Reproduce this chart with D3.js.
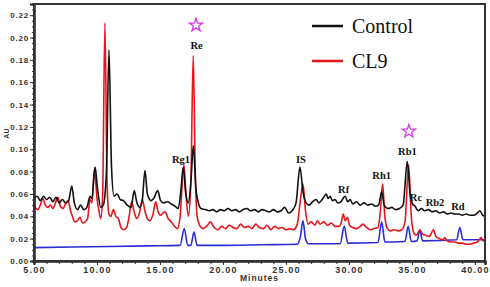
<!DOCTYPE html>
<html>
<head>
<meta charset="utf-8">
<script src="https://cdn.jsdelivr.net/npm/d3@7"></script>
<style>
  body { margin: 0; background: #fff; }
  .tick text { font-family: "Liberation Sans", Arial, sans-serif; font-weight: bold; fill: #333; }
</style>
</head>
<body>
<div id="chart"></div>
<script>
var W = 490, H = 287;
var margin = {top: 4, right: 5, bottom: 26, left: 34},
    width = W - margin.left - margin.right,
    height = H - margin.top - margin.bottom;

// Control (black)
var controlTime = [5.0,5.25,5.5,5.75,6.0,6.25,6.5,6.75,7.0,7.25,7.5,7.75,8.0,8.2,8.45,8.7,8.95,9.2,9.45,9.6,9.85,10.05,10.3,10.5,10.75,10.95,11.15,11.35,11.6,11.85,12.1,12.4,12.7,12.96,13.15,13.4,13.6,13.81,14.0,14.3,14.5,14.82,15.05,15.3,15.6,15.9,16.2,16.45,16.65,16.85,17.05,17.25,17.45,17.65,17.85,18.05,18.25,18.6,18.9,19.2,19.5,19.8,20.1,20.4,20.7,21.0,21.3,21.6,21.9,22.2,22.5,22.8,23.1,23.4,23.7,24.0,24.3,24.6,24.9,25.2,25.5,25.8,26.11,26.35,26.6,26.85,27.1,27.4,27.6,27.8,28.0,28.2,28.35,28.5,28.7,28.9,29.1,29.35,29.7,29.9,30.1,30.3,30.6,30.9,31.2,31.5,31.8,32.1,32.35,32.6,32.8,33.1,33.4,33.7,34.0,34.3,34.63,34.85,35.05,35.25,35.5,35.75,36.0,36.3,36.6,36.9,37.2,37.5,37.8,38.1,38.4,38.7,39.0,39.3,39.6,39.9,40.2,40.4,40.6,40.8];
var controlAU = [0.056,0.058,0.054,0.058,0.055,0.057,0.053,0.057,0.052,0.055,0.052,0.054,0.067,0.052,0.046,0.050,0.046,0.048,0.058,0.056,0.084,0.064,0.048,0.050,0.080,0.189,0.085,0.058,0.060,0.055,0.054,0.050,0.048,0.063,0.053,0.048,0.055,0.081,0.060,0.054,0.056,0.063,0.054,0.052,0.053,0.051,0.049,0.047,0.062,0.084,0.060,0.052,0.070,0.103,0.065,0.052,0.047,0.046,0.045,0.046,0.044,0.046,0.045,0.047,0.045,0.046,0.044,0.046,0.047,0.045,0.046,0.044,0.046,0.045,0.044,0.046,0.044,0.045,0.048,0.043,0.045,0.052,0.084,0.062,0.052,0.050,0.053,0.055,0.052,0.054,0.057,0.060,0.056,0.058,0.054,0.055,0.052,0.053,0.058,0.053,0.055,0.051,0.053,0.050,0.052,0.050,0.051,0.049,0.050,0.062,0.050,0.047,0.048,0.046,0.047,0.050,0.089,0.060,0.051,0.049,0.045,0.047,0.045,0.046,0.044,0.045,0.043,0.044,0.042,0.043,0.042,0.042,0.041,0.042,0.041,0.041,0.043,0.045,0.041,0.040];

// CL9 (red)
var cl9Time = [5.0,5.1,5.3,5.5,5.7,5.9,6.1,6.3,6.5,6.7,6.9,7.1,7.3,7.5,7.7,7.9,8.05,8.25,8.45,8.65,8.85,9.05,9.25,9.45,9.6,9.8,10.0,10.15,10.3,10.45,10.63,10.8,10.95,11.1,11.3,11.5,11.7,11.9,12.1,12.35,12.55,12.75,12.95,13.15,13.35,13.6,13.8,14.0,14.2,14.45,14.66,14.85,15.05,15.25,15.4,15.65,15.9,16.15,16.4,16.6,16.9,17.05,17.25,17.45,17.64,17.8,17.95,18.15,18.4,18.7,19.0,19.3,19.6,19.9,20.2,20.5,20.8,21.1,21.4,21.7,22.0,22.3,22.6,22.9,23.2,23.5,23.8,24.1,24.4,24.7,25.0,25.3,25.6,25.9,26.15,26.35,26.55,26.75,27.0,27.3,27.5,27.7,28.0,28.3,28.6,28.9,29.2,29.4,29.55,29.7,29.87,30.05,30.3,30.6,30.9,31.1,31.4,31.7,32.0,32.3,32.5,32.67,32.85,33.05,33.3,33.6,33.9,34.2,34.45,34.74,34.95,35.15,35.35,35.63,35.85,36.1,36.4,36.7,36.9,37.2,37.45,37.6,37.8,38.1,38.4,38.7,39.0,39.3,39.6,39.9,40.2,40.5,40.65,40.8];
var cl9AU = [0.059,0.048,0.046,0.050,0.056,0.050,0.048,0.050,0.047,0.052,0.057,0.049,0.047,0.051,0.054,0.045,0.040,0.035,0.036,0.039,0.034,0.035,0.038,0.055,0.052,0.083,0.056,0.045,0.038,0.060,0.213,0.070,0.042,0.040,0.046,0.040,0.038,0.030,0.028,0.030,0.040,0.053,0.044,0.038,0.042,0.055,0.045,0.038,0.036,0.042,0.053,0.044,0.041,0.043,0.044,0.038,0.035,0.031,0.029,0.040,0.086,0.062,0.040,0.070,0.184,0.080,0.040,0.032,0.029,0.031,0.035,0.030,0.028,0.031,0.029,0.032,0.030,0.029,0.033,0.030,0.031,0.029,0.033,0.030,0.029,0.032,0.028,0.031,0.029,0.030,0.028,0.029,0.028,0.033,0.055,0.069,0.045,0.033,0.035,0.032,0.036,0.033,0.035,0.032,0.034,0.031,0.031,0.035,0.042,0.036,0.039,0.032,0.030,0.029,0.031,0.033,0.030,0.028,0.029,0.030,0.045,0.069,0.040,0.029,0.027,0.028,0.027,0.028,0.035,0.086,0.040,0.025,0.023,0.028,0.024,0.023,0.022,0.028,0.022,0.020,0.019,0.021,0.018,0.017,0.017,0.016,0.016,0.015,0.015,0.016,0.017,0.021,0.018,0.019];

// standard mix (blue)
var stdTime = [5.0,8.0,11.0,14.0,16.6,16.93,17.2,17.45,17.7,17.95,20.0,23.0,25.9,26.15,26.35,26.55,26.8,29.3,29.63,29.9,32.3,32.6,32.85,34.45,34.7,34.95,35.4,35.63,35.85,38.55,38.8,39.05,40.8];
var stdAU = [0.012,0.0125,0.013,0.0135,0.014,0.029,0.014,0.014,0.026,0.014,0.014,0.0145,0.015,0.022,0.036,0.020,0.0155,0.0155,0.031,0.016,0.0165,0.035,0.017,0.0175,0.031,0.0175,0.018,0.0275,0.018,0.019,0.030,0.019,0.019];

var peakNames = ["Rg1", "Re", "IS", "Rf", "Rh1", "Rb1", "Rc", "Rb2", "Rd"];
var peakLabelTime = [16.67, 17.9, 26.19, 29.58, 32.6, 34.64, 35.32, 36.83, 38.65];
var peakLabelAU = [0.0874, 0.1894, 0.0874, 0.0606, 0.0731, 0.0946, 0.0534, 0.049, 0.0454];
var starTime = [17.86, 34.76];
var starAU = [0.211, 0.116];

var yTicks = [0, 0.02, 0.04, 0.06, 0.08, 0.10, 0.12, 0.14, 0.16, 0.18, 0.20, 0.22];
var xTicks = [5, 10, 15, 20, 25, 30, 35, 40];
var legendNames = ["Control", "CL9"];

var serif = "'Liberation Serif', 'Times New Roman', serif";
var sans = "'Liberation Sans', Arial, sans-serif";

var x = d3.scaleLinear().domain([5, 40.8]).range([0, width]);
var y = d3.scaleLinear().domain([0, 0.23]).range([height, 0]);

var svg = d3.select("#chart").append("svg")
    .attr("width", W)
    .attr("height", H)
  .append("g")
    .attr("transform", "translate(" + margin.left + "," + margin.top + ")");

function zip(t, v) { return t.map(function(d, i) { return [d, v[i]]; }); }

var series = [
  {name: "Standard", color: "#2b2bd6", data: zip(stdTime, stdAU)},
  {name: "CL9", color: "#e8161c", data: zip(cl9Time, cl9AU)},
  {name: "Control", color: "#111", data: zip(controlTime, controlAU)}
];

var line = d3.line()
    .x(function(d) { return x(d[0]); })
    .y(function(d) { return y(d[1]); })
    .curve(d3.curveMonotoneX);

svg.append("clipPath").attr("id", "clip")
  .append("rect").attr("width", width).attr("height", height);

svg.selectAll(".trace")
    .data(series)
    .enter().append("path")
    .attr("class", "trace")
    .attr("clip-path", "url(#clip)")
    .attr("d", function(d) { return line(d.data); })
    .style("fill", "none")
    .style("stroke", function(d) { return d.color; })
    .style("stroke-width", 1.6)
    .style("stroke-linejoin", "round");

// axes
svg.append("g")
    .call(d3.axisLeft(y).tickValues(d3.range(0, 0.2301, 0.005)).tickSize(2).tickFormat(""));
var yAxis = svg.append("g")
    .call(d3.axisLeft(y).tickValues(yTicks).tickSize(4).tickFormat(d3.format(".2f")));
yAxis.selectAll("text").style("font-size", "8px").style("letter-spacing", "0.8px").attr("x", -5);

svg.append("g")
    .attr("transform", "translate(0," + height + ")")
    .call(d3.axisBottom(x).tickValues(d3.range(5, 41, 1)).tickSize(3).tickFormat(""));
var xAxis = svg.append("g")
    .attr("transform", "translate(0," + height + ")")
    .call(d3.axisBottom(x).tickValues(xTicks).tickSize(4).tickFormat(d3.format(".2f")));
xAxis.selectAll("text").style("font-size", "9px").style("letter-spacing", "1.2px").attr("y", 6);

svg.selectAll(".domain").style("stroke", "#222").style("stroke-width", 2);
svg.selectAll(".tick line").style("stroke", "#333");

// frame
svg.append("rect")
    .attr("width", width)
    .attr("height", height)
    .style("fill", "none")
    .style("stroke", "#333")
    .style("stroke-width", 2);

svg.append("text")
    .attr("x", width / 2)
    .attr("y", height + 20)
    .style("text-anchor", "middle")
    .style("font-family", sans)
    .style("font-weight", "bold")
    .style("font-size", "8.5px")
    .style("letter-spacing", "1px")
    .style("fill", "#333")
    .text("Minutes");

svg.append("text")
    .attr("transform", "rotate(-90)")
    .attr("x", -y(0.114))
    .attr("y", -25)
    .style("text-anchor", "middle")
    .style("font-family", sans)
    .style("font-weight", "bold")
    .style("font-size", "7px")
    .style("fill", "#333")
    .text("AU");

// peak labels
svg.selectAll(".peak")
    .data(peakNames)
    .enter().append("text")
    .attr("class", "peak")
    .attr("x", function(d, i) { return x(peakLabelTime[i]); })
    .attr("y", function(d, i) { return y(peakLabelAU[i]); })
    .style("text-anchor", "middle")
    .style("font-family", serif)
    .style("font-weight", "bold")
    .style("font-size", "10.5px")
    .style("fill", "#111")
    .text(function(d) { return d; });

svg.selectAll(".star")
    .data(starTime)
    .enter().append("path")
    .attr("class", "star")
    .attr("transform", function(d, i) { return "translate(" + x(d) + "," + y(starAU[i]) + ")"; })
    .attr("d", d3.symbol().type(d3.symbolStar).size(55))
    .style("fill", "none")
    .style("stroke", "#d53ce8")
    .style("stroke-width", 1.3);

// legend
var legend = svg.selectAll(".legend")
    .data(legendNames)
    .enter().append("g")
    .attr("class", "legend")
    .attr("transform", function(d, i) { return "translate(278," + (22 + i * 35) + ")"; });

legend.append("line")
    .attr("x1", 0).attr("x2", 31)
    .style("stroke", function(d) { return d == "Control" ? "#111" : "#e8161c"; })
    .style("stroke-width", 2.5);

legend.append("text")
    .attr("x", 40)
    .attr("y", 6.5)
    .style("font-family", serif)
    .style("font-size", "20px")
    .style("fill", "#111")
    .text(function(d) { return d; });
</script>
</body>
</html>
